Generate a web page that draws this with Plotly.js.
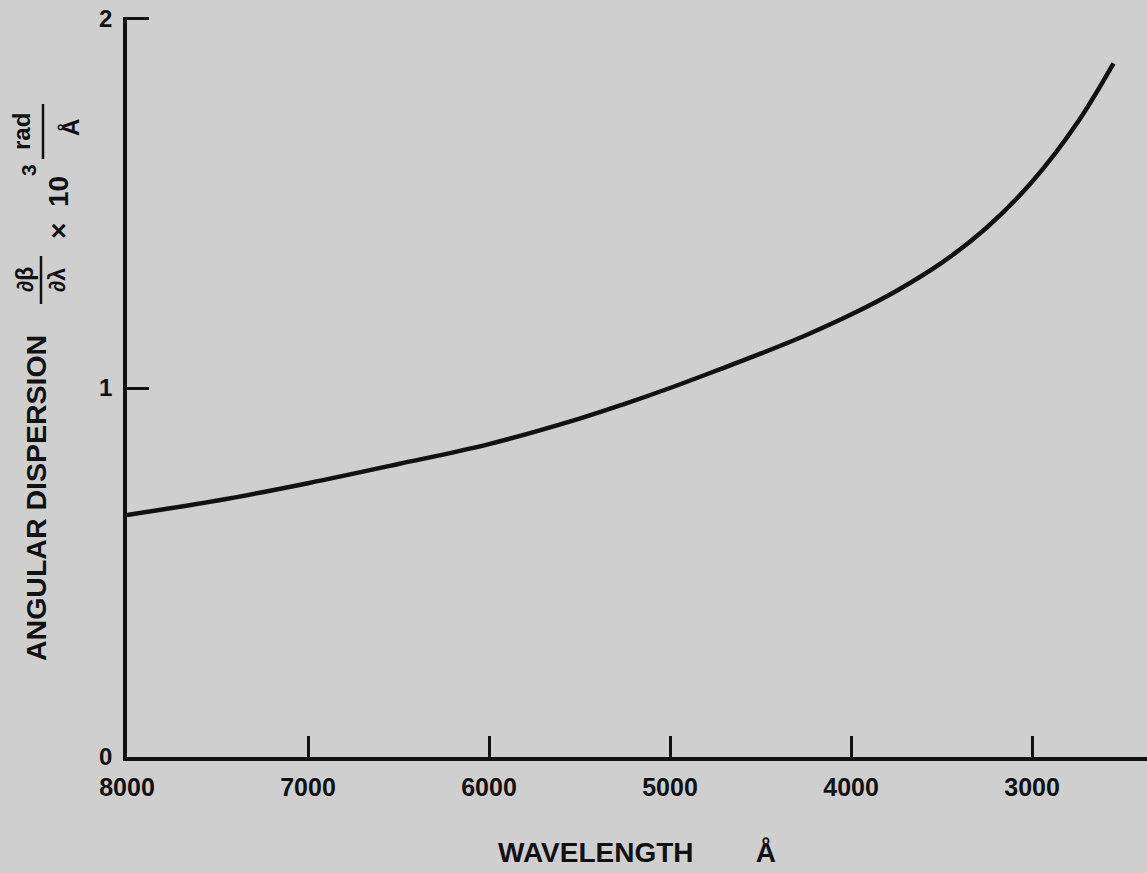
<!DOCTYPE html>
<html>
<head>
<meta charset="utf-8">
<script src="https://cdn.plot.ly/plotly-3.0.1.min.js"></script>
<style>
html,body{margin:0;padding:0;background:#cfcfcf;}
#chart{width:1147px;height:873px;}
</style>
</head>
<body>
<div id="chart"></div>
<script>
// Data
var wavelength = [8000, 7500, 7000, 6500, 6000, 5500, 5250, 5000, 4750, 4500, 4250, 4000, 3750, 3500, 3250, 3000, 2750, 2550];
var dispersion = [0.656, 0.695, 0.742, 0.794, 0.848, 0.917, 0.957, 1.0, 1.046, 1.093, 1.143, 1.199, 1.263, 1.339, 1.435, 1.559, 1.719, 1.88];
var xTicks = [8000, 7000, 6000, 5000, 4000, 3000];
var xTickLabels = ['8000', '7000', '6000', '5000', '4000', '3000'];
var yTicks = [0, 1, 2];
var yTickLabels = ['0', '1', '2'];

var W = 1147, H = 873;
var M = {l: 127, r: 0, t: 17, b: 116};
var pw = W - M.l - M.r, ph = H - M.t - M.b;
function px(x){ return (x - M.l) / pw; }
function py(y){ return (H - M.b - y) / ph; }

var FONT = 'Liberation Sans, Arial, sans-serif';
var INK = '#111111';
var BG = '#cfcfcf';

var trace = {
  x: wavelength,
  y: dispersion,
  type: 'scatter',
  mode: 'lines',
  line: {color: INK, width: 4.5, shape: 'spline', smoothing: 1},
  hoverinfo: 'x+y'
};

function ann(text, x, y, size, extra){
  var a = {
    text: text, xref: 'paper', yref: 'paper', x: px(x), y: py(y),
    xanchor: 'center', yanchor: 'middle', showarrow: false, textangle: -90,
    font: {family: FONT, size: size, color: INK, weight: 700}
  };
  for (var k in (extra || {})) a[k] = extra[k];
  return a;
}

var layout = {
  width: W, height: H,
  margin: M,
  paper_bgcolor: BG,
  plot_bgcolor: BG,
  showlegend: false,
  xaxis: {
    range: [8000, 2365],
    tickvals: xTicks,
    ticktext: xTickLabels,
    ticks: 'inside',
    ticklen: 21,
    tickwidth: 3,
    tickcolor: INK,
    showline: true,
    linecolor: INK,
    linewidth: 4,
    showgrid: false,
    zeroline: false,
    ticklabelstandoff: 5,
    tickfont: {family: FONT, size: 25, color: INK, weight: 700},
    title: {
      text: 'WAVELENGTH\u00A0\u00A0\u00A0\u00A0\u00A0\u00A0\u00A0\u00A0Å',
      font: {family: FONT, size: 28, color: INK, weight: 700},
      standoff: 43
    },
    automargin: false
  },
  yaxis: {
    range: [0, 2.0054],
    tickvals: yTicks,
    ticktext: yTickLabels,
    ticks: 'inside',
    ticklen: 22,
    tickwidth: 3,
    tickcolor: INK,
    showline: true,
    linecolor: INK,
    linewidth: 3.5,
    showgrid: false,
    zeroline: false,
    ticklabelstandoff: 6,
    tickfont: {family: FONT, size: 24, color: INK, weight: 700},
    automargin: false
  },
  annotations: [
    ann('ANGULAR DISPERSION', 36, 498, 28.5),
    ann('∂β', 25, 280, 23),
    ann('∂λ', 57, 280, 23),
    ann('×\u00A0\u00A010', 58, 208, 28),
    ann('3', 28, 170, 21),
    ann('rad', 22, 132, 24),
    ann('Å', 70, 128, 24)
  ],
  shapes: [
    {type: 'line', xref: 'paper', yref: 'paper', x0: px(41), x1: px(41), y0: py(256), y1: py(304), line: {color: INK, width: 2.5}},
    {type: 'line', xref: 'paper', yref: 'paper', x0: px(43), x1: px(43), y0: py(104), y1: py(159), line: {color: INK, width: 2.5}}
  ]
};

Plotly.newPlot('chart', [trace], layout, {displayModeBar: false, responsive: false});
</script>
</body>
</html>
